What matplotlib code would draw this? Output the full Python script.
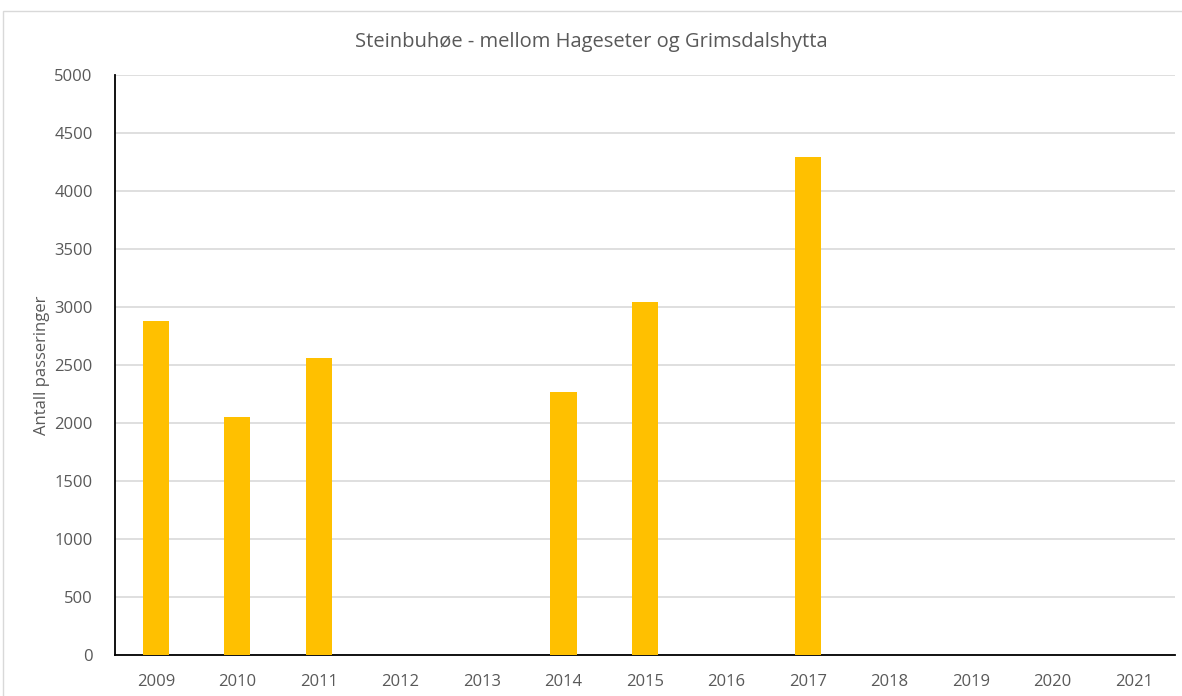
import matplotlib.pyplot as plt
from matplotlib.patches import Rectangle

# ── data ──────────────────────────────────────────────────────────────────────
years = ['2009', '2010', '2011', '2012', '2013', '2014', '2015',
         '2016', '2017', '2018', '2019', '2020', '2021']
passes = [2880, 2050, 2560, 0, 0, 2270, 3040, 0, 4290, 0, 0, 0, 0]
yticks = [0, 500, 1000, 1500, 2000, 2500, 3000, 3500, 4000, 4500, 5000]

title = "Steinbuhøe - mellom Hageseter og Grimsdalshytta"
ylabel = "Antall passeringer"

text_col = '#595959'
plt.rcParams['font.family'] = ['Open Sans', 'DejaVu Sans']

fig = plt.figure(figsize=(11.82, 6.96), dpi=100)
ax = fig.add_axes([115 / 1182, 1 - 655 / 696, 1060 / 1182, 580 / 696])

# outer chart frame
fig.patches.append(Rectangle((3 / 1182, -0.01), 1.2, 1 - 11 / 696 + 0.01,
                             transform=fig.transFigure, fill=False,
                             edgecolor='#D9D9D9', linewidth=1))

x = range(len(years))
ax.bar(x, passes, width=0.32, color='#FFC000', zorder=3)

ax.set_xlim(-0.5, len(years) - 0.5)
ax.set_ylim(0, 5000)
ax.set_yticks(yticks)
ax.set_xticks(list(x))
ax.set_xticklabels(years)
ax.grid(axis='y', color='#D9D9D9', linewidth=1.2, zorder=0)

for side in ['top', 'right']:
    ax.spines[side].set_visible(False)
ax.spines['left'].set_color('black')
ax.spines['bottom'].set_color('black')
ax.spines['left'].set_linewidth(1.3)
ax.spines['bottom'].set_linewidth(1.3)
ax.tick_params(length=0, labelsize=12, colors=text_col)
ax.tick_params(axis='y', pad=16)
ax.tick_params(axis='x', pad=14)

ax.set_ylabel(ylabel, fontsize=12, color=text_col, labelpad=3)
fig.text(0.5, 1 - 42 / 696, title, ha='center', va='center',
         fontsize=14.5, color=text_col)

fig.savefig('out.png', dpi=100)
